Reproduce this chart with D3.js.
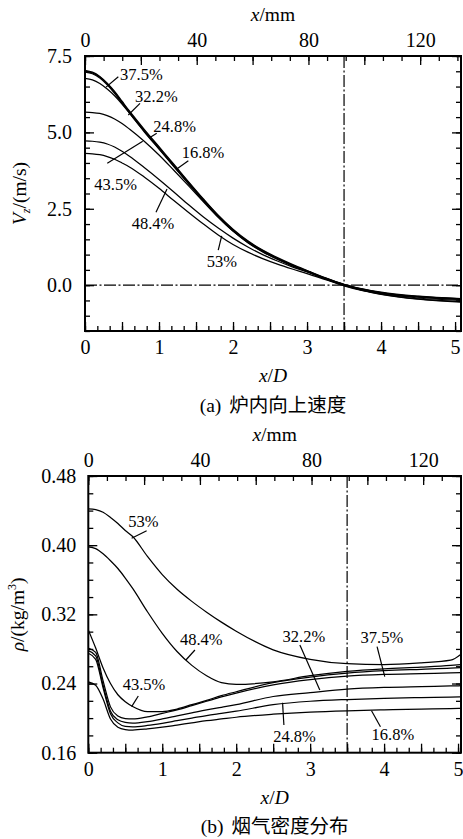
<!DOCTYPE html>
<html>
<head>
<meta charset="utf-8">
<script src="https://cdn.jsdelivr.net/npm/d3@7"></script>
</head>
<body style="margin:0;background:#fff">
<div id="chart"></div>
<script>
const width = 463, height = 839;
const D = 26.5; // mm per x/D unit
const serif = "Liberation Serif";
const cjk = "Noto Sans CJK SC";

// ---- panel (a): upward velocity Vz (m/s) ----
const xA = [0, 0.1, 0.2, 0.3, 0.4, 0.5, 0.6, 0.8, 1.0, 1.2, 1.4, 1.6, 1.8, 2.0, 2.2, 2.4, 2.6, 2.8, 3.0, 3.25, 3.5, 3.75, 4.0, 4.5, 5.1];
const v375 = [7.03, 6.97, 6.83, 6.61, 6.34, 6.02, 5.70, 5.10, 4.53, 3.96, 3.38, 2.82, 2.29, 1.83, 1.45, 1.15, 0.90, 0.68, 0.48, 0.24, 0.03, -0.12, -0.23, -0.36, -0.44];
const v168 = [7.00, 6.95, 6.81, 6.59, 6.31, 5.99, 5.67, 5.07, 4.50, 3.93, 3.36, 2.80, 2.27, 1.81, 1.43, 1.13, 0.88, 0.66, 0.47, 0.23, 0.02, -0.13, -0.24, -0.37, -0.45];
const v248 = [6.97, 6.92, 6.78, 6.56, 6.28, 5.96, 5.64, 5.04, 4.47, 3.90, 3.33, 2.78, 2.25, 1.79, 1.42, 1.12, 0.87, 0.65, 0.46, 0.22, 0.02, -0.14, -0.25, -0.38, -0.46];
const v322 = [6.77, 6.72, 6.60, 6.42, 6.20, 5.93, 5.63, 5.02, 4.45, 3.88, 3.31, 2.76, 2.23, 1.77, 1.40, 1.10, 0.85, 0.64, 0.45, 0.21, 0.01, -0.15, -0.26, -0.39, -0.47];
const v435 = [5.66, 5.65, 5.62, 5.55, 5.44, 5.29, 5.11, 4.71, 4.26, 3.76, 3.25, 2.73, 2.22, 1.77, 1.39, 1.09, 0.85, 0.64, 0.45, 0.21, 0.00, -0.16, -0.27, -0.42, -0.50];
const v484 = [4.72, 4.71, 4.68, 4.62, 4.52, 4.38, 4.22, 3.85, 3.46, 3.05, 2.63, 2.23, 1.87, 1.54, 1.25, 1.00, 0.79, 0.60, 0.43, 0.20, -0.01, -0.17, -0.29, -0.45, -0.54];
const v53  = [4.31, 4.30, 4.27, 4.21, 4.12, 4.00, 3.87, 3.54, 3.17, 2.77, 2.38, 2.00, 1.64, 1.33, 1.08, 0.87, 0.69, 0.53, 0.38, 0.18, -0.02, -0.18, -0.30, -0.46, -0.56];

// ---- panel (b): flue gas density (kg/m3) ----
const xB = [0, 0.1, 0.2, 0.3, 0.4, 0.5, 0.6, 0.8, 1.0, 1.2, 1.4, 1.6, 1.8, 2.0, 2.5, 3.0, 3.5, 4.0, 4.5, 4.9, 5.04];
const r53  = [0.442, 0.441, 0.438, 0.432, 0.425, 0.417, 0.410, 0.387, 0.366, 0.349, 0.335, 0.3225, 0.311, 0.3005, 0.279, 0.268, 0.263, 0.262, 0.264, 0.267, 0.274];
const r484 = [0.398, 0.396, 0.390, 0.382, 0.373, 0.362, 0.350, 0.323, 0.298, 0.277, 0.261, 0.249, 0.241, 0.239, 0.242, 0.249, 0.254, 0.257, 0.259, 0.261, 0.262];
const r435 = [0.302, 0.281, 0.258, 0.240, 0.227, 0.219, 0.2135, 0.2075, 0.2075, 0.2105, 0.2155, 0.2205, 0.226, 0.2305, 0.241, 0.2475, 0.252, 0.2548, 0.2565, 0.2578, 0.2585];
const r375 = [0.281, 0.276, 0.243, 0.213, 0.2025, 0.1995, 0.199, 0.2015, 0.2055, 0.2095, 0.2145, 0.2195, 0.2245, 0.229, 0.2385, 0.2445, 0.2485, 0.2505, 0.2515, 0.2522, 0.2525];
const r322 = [0.278, 0.272, 0.238, 0.208, 0.198, 0.195, 0.1943, 0.196, 0.199, 0.2025, 0.206, 0.2095, 0.2125, 0.2155, 0.225, 0.2295, 0.2335, 0.2355, 0.2365, 0.2372, 0.2375];
const r248 = [0.275, 0.268, 0.235, 0.205, 0.1945, 0.1905, 0.190, 0.1915, 0.194, 0.197, 0.200, 0.203, 0.2055, 0.208, 0.2155, 0.2195, 0.2215, 0.2228, 0.2237, 0.2243, 0.2246];
const r168 = [0.242, 0.238, 0.222, 0.199, 0.1895, 0.1868, 0.1862, 0.1875, 0.1895, 0.192, 0.1945, 0.197, 0.199, 0.201, 0.2045, 0.207, 0.2085, 0.2095, 0.2103, 0.2110, 0.2113];

// labels: text at (tx,ty), leader from (x1,y1) to (x2,y2), all in data units
const notesA = [
  {t: "37.5%", tx: 0.473, ty: 6.71, x1: 0.45, y1: 6.82, x2: 0.284, y2: 6.48},
  {t: "32.2%", tx: 0.676, ty: 6.00, x1: 0.743, y1: 5.95, x2: 0.585, y2: 5.57},
  {t: "24.8%", tx: 0.923, ty: 5.02, x1: 0.969, y1: 4.97, x2: 0.878, y2: 4.83},
  {t: "16.8%", tx: 1.307, ty: 4.15, x1: 1.396, y1: 4.07, x2: 1.24, y2: 3.80},
  {t: "43.5%", tx: 0.126, ty: 3.11, x1: 0.301, y1: 3.99, x2: 0.78, y2: 4.71},
  {t: "48.4%", tx: 0.631, ty: 1.84, x1: 0.959, y1: 2.39, x2: 1.108, y2: 3.15},
  {t: "53%",   tx: 1.645, ty: 0.60, x1: 1.80,  y1: 1.15, x2: 1.847, y2: 1.61}
];
const notesB = [
  {t: "53%",   tx: 0.54,  ty: 0.4207, x1: 0.789, y1: 0.4167, x2: 0.586, y2: 0.408},
  {t: "48.4%", tx: 1.239, ty: 0.2846, x1: 1.442, y1: 0.2788, x2: 1.32,  y2: 0.2672},
  {t: "43.5%", tx: 0.465, ty: 0.2325, x1: 0.676, y1: 0.2256, x2: 0.586, y2: 0.2133},
  {t: "32.2%", tx: 2.627, ty: 0.2884, x1: 2.861, y1: 0.2846, x2: 3.131, y2: 0.2325},
  {t: "37.5%", tx: 3.681, ty: 0.2869, x1: 3.905, y1: 0.2826, x2: 4.009, y2: 0.2479},
  {t: "24.8%", tx: 2.50,  ty: 0.1727, x1: 2.627, y1: 0.2178, x2: 2.645, y2: 0.192},
  {t: "16.8%", tx: 3.83,  ty: 0.1747, x1: 3.83,  y1: 0.2086, x2: 3.951, y2: 0.190}
];

const panels = [
  {
    id: "a", left: 85, right: 461, top: 56, bottom: 331, xMax: 5.08,
    yDomain: [-1.5, 7.5], yMajor: 2.5, yMinor: 0.5, yFmt: d3.format(".1f"),
    xs: xA, series: [v53, v484, v435, v322, v248, v168, v375], notes: notesA,
    zeroLine: true, yPad: 13, yTitleX: 26,
    yTitle: [["V", "italic", null], ["z", "italic", "sub"], ["/(m/s)", "normal", "back"]],
    capTag: "(a)", caption: "炉内向上速度"
  },
  {
    id: "b", left: 88.3, right: 461, top: 476, bottom: 752.7, xMax: 5.04,
    yDomain: [0.16, 0.48], yMajor: 0.08, yMinor: 0.02, yFmt: d3.format(".2f"),
    xs: xB, series: [r53, r484, r435, r375, r322, r248, r168], notes: notesB,
    zeroLine: false, yPad: 12, yTitleX: 24,
    yTitle: [["ρ", "italic", null], ["/(kg/m", "normal", null], ["3", "normal", "sup"], [")", "normal", "back"]],
    capTag: "(b)", caption: "烟气密度分布"
  }
];

function steps(lo, hi, step) {
  const n = Math.floor((hi - lo) / step + 1e-6);
  return d3.range(n + 1).map(i => +(lo + i * step).toFixed(6));
}

const svg = d3.select("#chart").append("svg")
  .attr("width", width).attr("height", height)
  .attr("font-family", serif);

panels.forEach(p => {
  const x = d3.scaleLinear().domain([0, p.xMax]).range([p.left, p.right]);
  const y = d3.scaleLinear().domain(p.yDomain).range([p.bottom, p.top]);
  const mm = d3.scaleLinear().domain([0, p.xMax * D]).range([p.left, p.right]);
  const g = svg.append("g").attr("class", "panel-" + p.id);

  g.append("clipPath").attr("id", "clip-" + p.id)
    .append("rect")
    .attr("x", p.left).attr("y", p.top)
    .attr("width", p.right - p.left).attr("height", p.bottom - p.top);

  // dash-dot guide lines
  const dash = "12,2.5,2,2.5";
  g.append("line")
    .attr("x1", x(3.5)).attr("x2", x(3.5))
    .attr("y1", p.top).attr("y2", p.bottom)
    .attr("stroke", "#000").attr("stroke-width", 1.2).attr("stroke-dasharray", dash);
  if (p.zeroLine) {
    g.append("line")
      .attr("x1", p.left).attr("x2", p.right)
      .attr("y1", y(0)).attr("y2", y(0))
      .attr("stroke", "#000").attr("stroke-width", 1.2).attr("stroke-dasharray", dash);
  }

  // curves
  const line = d3.line()
    .x((d, i) => x(p.xs[i]))
    .y(d => y(d))
    .curve(d3.curveMonotoneX);
  g.append("g").attr("clip-path", "url(#clip-" + p.id + ")")
    .selectAll("path")
    .data(p.series)
    .enter().append("path")
    .attr("d", d => line(d))
    .attr("fill", "none").attr("stroke", "#000").attr("stroke-width", 1.25);

  // ticks, all pointing inside the frame
  const tickStyle = g => g.attr("font-family", serif).attr("font-size", 20)
    .call(g => g.select(".domain").remove())
    .call(g => g.selectAll("text").attr("font-family", serif).attr("fill", "#000"))
    .call(g => g.selectAll("line").attr("stroke-width", 1.3));

  const xMinor = steps(0, p.xMax, 1 / 6), xMajor = steps(0, p.xMax, 0.5);
  g.append("g").attr("transform", `translate(0,${p.bottom})`)
    .call(d3.axisBottom(x).tickValues(xMinor).tickSize(-5).tickFormat(""))
    .call(tickStyle);
  g.append("g").attr("transform", `translate(0,${p.bottom})`)
    .call(d3.axisBottom(x).tickValues(xMajor).tickSize(-9).tickPadding(9)
      .tickFormat(d => Number.isInteger(d) ? d : ""))
    .call(tickStyle);

  const mMinor = steps(0, p.xMax * D, 20 / 3), mMajor = steps(0, p.xMax * D, 20);
  g.append("g").attr("transform", `translate(0,${p.top})`)
    .call(d3.axisTop(mm).tickValues(mMinor).tickSize(-5).tickFormat(""))
    .call(tickStyle);
  g.append("g").attr("transform", `translate(0,${p.top})`)
    .call(d3.axisTop(mm).tickValues(mMajor).tickSize(-9).tickPadding(9)
      .tickFormat(d => d % 40 === 0 ? d : ""))
    .call(tickStyle);

  const yMinor = steps(p.yDomain[0], p.yDomain[1], p.yMinor);
  const yMajor = yMinor.filter(v => Math.abs(v / p.yMajor - Math.round(v / p.yMajor)) < 1e-6);
  g.append("g").attr("transform", `translate(${p.left},0)`)
    .call(d3.axisLeft(y).tickValues(yMinor).tickSize(-5).tickFormat(""))
    .call(tickStyle);
  g.append("g").attr("transform", `translate(${p.left},0)`)
    .call(d3.axisLeft(y).tickValues(yMajor).tickSize(-9).tickPadding(p.yPad).tickFormat(p.yFmt))
    .call(tickStyle);
  g.append("g").attr("transform", `translate(${p.right},0)`)
    .call(d3.axisRight(y).tickValues(yMinor).tickSize(-5).tickFormat(""))
    .call(tickStyle);
  g.append("g").attr("transform", `translate(${p.right},0)`)
    .call(d3.axisRight(y).tickValues(yMajor).tickSize(-9).tickFormat(""))
    .call(tickStyle);

  // frame
  g.append("rect")
    .attr("x", p.left).attr("y", p.top)
    .attr("width", p.right - p.left).attr("height", p.bottom - p.top)
    .attr("fill", "none").attr("stroke", "#000").attr("stroke-width", 2);

  // curve labels with leaders
  const notes = g.append("g");
  notes.selectAll("line")
    .data(p.notes)
    .enter().append("line")
    .attr("x1", d => x(d.x1)).attr("y1", d => y(d.y1))
    .attr("x2", d => x(d.x2)).attr("y2", d => y(d.y2))
    .attr("stroke", "#000").attr("stroke-width", 1.2);
  notes.selectAll("text")
    .data(p.notes)
    .enter().append("text")
    .attr("x", d => x(d.tx)).attr("y", d => y(d.ty))
    .attr("font-family", serif).attr("font-size", 16.5)
    .text(d => d.t);

  // axis titles
  const cx = (p.left + p.right) / 2;
  const top = g.append("text")
    .attr("x", cx).attr("y", p.top - 35)
    .attr("text-anchor", "middle").attr("font-family", serif).attr("font-size", 19.5);
  top.append("tspan").attr("font-style", "italic").text("x");
  top.append("tspan").text("/mm");

  const bot = g.append("text")
    .attr("x", cx).attr("y", p.bottom + 51)
    .attr("text-anchor", "middle").attr("font-family", serif).attr("font-size", 19.5);
  bot.append("tspan").attr("font-style", "italic").text("x");
  bot.append("tspan").text("/");
  bot.append("tspan").attr("font-style", "italic").text("D");

  const yt = g.append("text")
    .attr("transform", `translate(${p.yTitleX},${(p.top + p.bottom) / 2}) rotate(-90)`)
    .attr("text-anchor", "middle").attr("font-family", serif).attr("font-size", 19.5);
  p.yTitle.forEach(([s, style, pos]) => {
    const ts = yt.append("tspan").attr("font-style", style).text(s);
    if (pos === "sub") ts.attr("font-size", 12).attr("dy", 4);
    if (pos === "sup") ts.attr("font-size", 12).attr("dy", -8);
    if (pos === "back") ts.attr("dy", p.id === "a" ? -4 : 8);
  });

  // caption: "(a)" in serif, Chinese text in CJK font
  const cap = g.append("text")
    .attr("x", cx).attr("y", p.bottom + 80.5)
    .attr("text-anchor", "middle").attr("font-size", 19.5);
  cap.append("tspan").attr("font-family", serif).text(p.capTag);
  cap.append("tspan").attr("font-family", cjk).attr("dx", 8).text(p.caption);
});
</script>
</body>
</html>
